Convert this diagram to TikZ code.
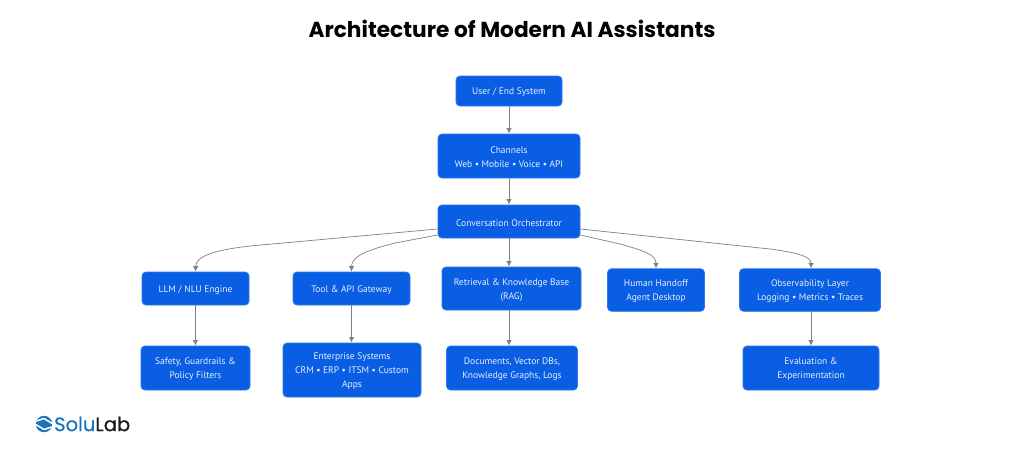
\documentclass[tikz,border=0pt]{standalone}
\usepackage{fontspec}
\setmainfont{PT Sans}
\newfontfamily\titlefont{Poppins}
\newfontfamily\logofont[FakeBold=0.5]{Poppins}
\usetikzlibrary{arrows.meta,calc}
\definecolor{boxblue}{HTML}{0A5EE3}
\definecolor{boxedge}{HTML}{2A78EE}
\definecolor{boxtext}{HTML}{E6F0FF}
\definecolor{edgegray}{HTML}{808080}
\definecolor{logoblue}{HTML}{1B75BB}
\definecolor{logoblack}{HTML}{1C1C1C}
\newcommand{\firstline}{\rule{0pt}{9.3pt}}
\tikzset{
  box/.style={draw=boxedge,line width=0.8pt,fill=boxblue,rounded corners=4pt,inner sep=0pt,align=center,text=boxtext,font=\fontsize{9.5}{14}\selectfont},
  link/.style={draw=edgegray,line width=1pt,-{Latex[length=5.5pt,width=5.5pt]}},
  curvelink/.style={draw=edgegray,line width=0.7pt,-{Latex[length=5.5pt,width=5.5pt]}}
}
\begin{document}
\begin{tikzpicture}[x=1pt,y=-1pt]
\useasboundingbox (0,0) rectangle (1024,455);
\fill[white] (0,0) rectangle (1024,455);
\node[font=\titlefont\bfseries\fontsize{21.7}{24}\selectfont,text=black,inner sep=0pt] (title) at (512,29) {Architecture of Modern AI Assistants};
\node[box,minimum width=106pt,minimum height=30pt] (user) at (509,91) {\firstline User / End System};
\node[box,minimum width=142pt,minimum height=44pt] (chan) at (509,156) {\firstline Channels\\Web • Mobile • Voice • API};
\node[box,minimum width=142pt,minimum height=33pt] (orch) at (509,221.5) {\firstline Conversation Orchestrator};
\node[box,minimum width=107pt,minimum height=33pt] (llm) at (195.5,288.5) {\firstline LLM / NLU Engine};
\node[box,minimum width=117pt,minimum height=33pt] (tool) at (351.5,288.5) {\firstline Tool \& API Gateway};
\node[box,minimum width=139pt,minimum height=43pt] (rag) at (511.5,288.5) {\firstline Retrieval \& Knowledge Base\\(RAG)};
\node[box,minimum width=97pt,minimum height=42.5pt] (human) at (656,290) {\firstline Human Handoff\\Agent Desktop};
\node[box,minimum width=141pt,minimum height=42.5pt] (obs) at (810,290) {\firstline Observability Layer\\Logging • Metrics • Traces};
\node[box,minimum width=109pt,minimum height=44pt] (safety) at (195.5,368) {\firstline Safety, Guardrails \&\\Policy Filters};
\node[box,minimum width=138pt,minimum height=54pt] (ent) at (352,370) {\firstline Enterprise Systems\\CRM • ERP • ITSM • Custom\\Apps};
\node[box,minimum width=131pt,minimum height=44pt] (docs) at (512,368) {\firstline Documents, Vector DBs,\\Knowledge Graphs, Logs};
\node[box,minimum width=136pt,minimum height=44pt] (eval) at (811,368) {\firstline Evaluation \&\\Experimentation};
\draw[link] (user) -- (chan);
\draw[link] (chan) -- (orch);
\draw[link] (orch.south) -- (orch.south |- rag.north);
\draw[link] (llm) -- (safety);
\draw[link] (tool) -- (tool |- ent.north);
\draw[link] (rag.south -| orch.south) -- (orch.south |- docs.north);
\draw[link] (eval |- obs.south) -- (eval);
\draw[curvelink] ([yshift=-7.5pt]orch.west) -- (250,246) .. controls (215,250) and (196,256) .. (llm.north);
\draw[curvelink] ([yshift=-13.5pt]orch.west) -- (395,243) .. controls (368,250) and (351.5,256) .. (tool.north);
\draw[curvelink] ([yshift=-13.5pt]orch.east) -- (620,244) .. controls (645,251) and (656,255) .. (human.north);
\draw[curvelink] ([yshift=-7.5pt]orch.east) -- (770,249) .. controls (800,253) and (811,257) .. (eval.north |- obs.north);
\begin{scope}
\clip (44,424) circle (8.2pt);
\fill[logoblue] (35,415) rectangle (53,433);
\draw[white,line width=1.5pt] (35,421.5) -- (44,418.5) -- (53,424);
\draw[white,line width=1.5pt] (35,424) -- (44,429.5) -- (53,426.5);
\end{scope}
\node[anchor=west,inner sep=0pt,font=\logofont\fontsize{19.5}{22}\selectfont] (logo) at (54,424) {\textcolor{logoblue}{Solu}\textcolor{logoblack}{Lab}};
\end{tikzpicture}
\end{document}
